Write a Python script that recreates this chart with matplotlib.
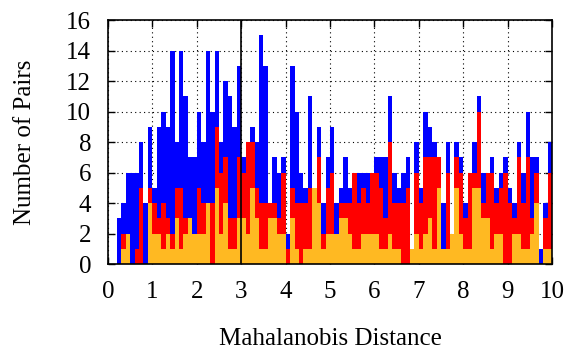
import matplotlib
matplotlib.use("Agg")
import matplotlib.pyplot as plt
import numpy as np

bin_width = 0.1
blue = [0,0,3,4,6,6,6,8,4,9, 5,9,10,9,14,8,14,11,7,7, 10,8,14,10,14,8,12,11,9,13,
        7,8,9,8,15,13,4,7,6,7, 2,13,10,6,5,11,5,9,4,7, 9,4,5,7,5,6,6,6,6,6,
        7,7,7,11,6,5,6,7,1,8, 5,10,9,8,7,4,8,2,8,7, 4,6,8,11,6,6,7,5,6,7,
        5,4,8,6,10,7,7,1,4,8]
red = [0,0,0,2,2,0,1,5,0,5, 4,3,4,3,2,5,5,3,3,1, 5,4,4,4,9,6,7,3,3,7,
       6,8,8,5,4,4,4,4,3,6, 1,5,4,4,4,5,5,7,2,5, 6,2,4,4,4,6,4,5,4,6,
       6,5,3,8,4,4,4,5,1,6, 4,7,7,7,7,1,6,2,7,6, 3,6,6,10,4,6,6,4,5,6,
       4,3,7,4,7,3,6,0,3,6]
orange = [0,0,0,1,2,0,0,0,0,4, 2,2,1,2,1,3,1,2,3,2, 2,2,4,0,5,2,4,1,1,3,
          3,2,5,3,1,1,3,3,2,2, 0,3,1,0,1,1,5,4,1,2, 2,2,3,3,2,1,1,2,2,2,
          2,1,1,2,1,1,0,0,1,2, 1,2,3,1,5,1,1,2,5,2, 1,1,5,5,3,3,1,2,2,0,
          0,2,2,1,1,2,4,0,1,1]
threshold = 3

edges = np.arange(len(blue)) * bin_width

plt.rcParams['font.family'] = ['Liberation Serif', 'DejaVu Serif']
fig = plt.figure(figsize=(5.74, 3.53), dpi=100)
ax = fig.add_axes([0.188, 0.252, 0.774, 0.691])

ax.bar(edges, blue, width=bin_width, align='edge', color='#0000FF', linewidth=0, zorder=2)
ax.bar(edges, red, width=bin_width, align='edge', color='#FF0000', linewidth=0, zorder=3)
ax.bar(edges, orange, width=bin_width, align='edge', color='#FFB922', linewidth=0, zorder=4)
ax.axvline(threshold, color='black', linewidth=1.2, zorder=5)

ax.set_xlim(0, 10)
ax.set_ylim(0, 16)
ax.set_xticks(range(0, 11))
ax.set_yticks(range(0, 17, 2))
ax.grid(True, color='black', linestyle=(0, (1, 3)), linewidth=0.8, zorder=0)
ax.set_axisbelow(True)
ax.tick_params(direction='in', top=True, right=True, labelsize=18, length=5, width=1)
ax.tick_params(axis='y', pad=12)
ax.tick_params(axis='x', pad=12)
for s in ax.spines.values():
    s.set_linewidth(1.2)
    s.set_zorder(6)
ax.set_xlabel('Mahalanobis Distance', fontsize=18, labelpad=18)
ax.set_ylabel('Number of Pairs', fontsize=18, labelpad=22)

fig.savefig('out.png', dpi=100)
